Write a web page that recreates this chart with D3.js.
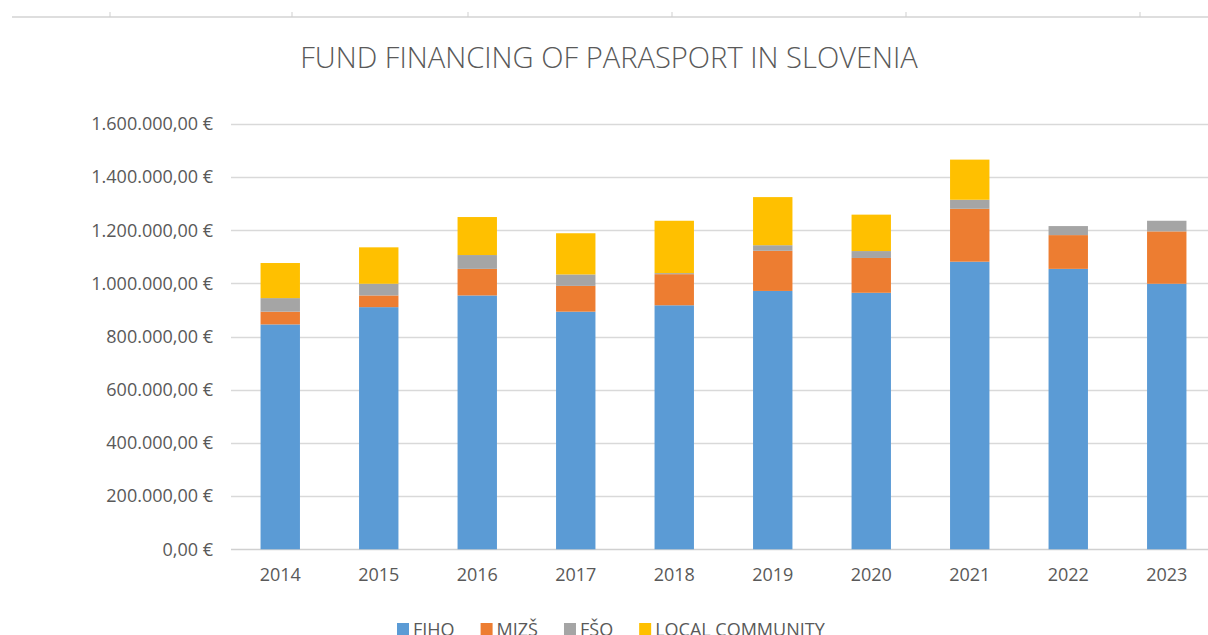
<!DOCTYPE html>
<html>
<head>
<meta charset="utf-8">
<script src="https://cdn.jsdelivr.net/npm/d3@7"></script>
<style>
  html, body { margin: 0; padding: 0; background: #fff; }
  svg { display: block; }
  text { font-family: "Open Sans", "DejaVu Sans", sans-serif; fill: #595959; }
</style>
</head>
<body>
<svg id="chart" width="1208" height="635"></svg>
<script>
const years = ["2014", "2015", "2016", "2017", "2018", "2019", "2020", "2021", "2022", "2023"];
const fiho = [846000, 911000, 955000, 894000, 918000, 972000, 965000, 1082000, 1055000, 999000];
const mizs = [48000, 44000, 100000, 97000, 117000, 151000, 131000, 199000, 127000, 197000];
const fso = [51000, 44000, 52000, 43000, 4000, 21000, 26000, 34000, 34000, 40000];
const local = [132000, 137000, 143000, 155000, 197000, 181000, 137000, 151000, 0, 0];
const seriesNames = ["FIHO", "MIZŠ", "FŠO", "LOCAL COMMUNITY"];
const seriesColors = ["#5B9BD5", "#ED7D31", "#A5A5A5", "#FFC000"];
const yTicks = [0, 200000, 400000, 600000, 800000, 1000000, 1200000, 1400000, 1600000];

const svg = d3.select("#chart");
const W = 1208;

// leftover table border along the top of the screenshot
svg.append("line")
  .attr("x1", 12).attr("x2", W).attr("y1", 17).attr("y2", 17)
  .attr("stroke", "#dedede").attr("stroke-width", 2);
[110, 292, 468, 672, 906, 1140].forEach(x => {
  svg.append("line")
    .attr("x1", x).attr("x2", x).attr("y1", 12).attr("y2", 17)
    .attr("stroke", "#cfcfcf").attr("stroke-width", 1);
});

const table = years.map((y, i) => ({
  year: y, FIHO: fiho[i], "MIZŠ": mizs[i], "FŠO": fso[i], "LOCAL COMMUNITY": local[i]
}));
const stack = d3.stack().keys(seriesNames)(table);

const x = d3.scaleBand().domain(years).range([231, 1216]).paddingInner(0.6).paddingOuter(0.3);
const y = d3.scaleLinear().domain([0, 1600000]).range([549.3, 124]);
const color = d3.scaleOrdinal().domain(seriesNames).range(seriesColors);

const fmt = v => d3.format(",.2f")(v).replace(/,/g, "#").replace(".", ",").replace(/#/g, ".") + " €";

// gridlines
svg.append("g")
  .selectAll("line")
  .data(yTicks)
  .join("line")
  .attr("x1", 231).attr("x2", W)
  .attr("y1", d => Math.round(y(d)) + 0.5).attr("y2", d => Math.round(y(d)) + 0.5)
  .attr("stroke", d => d === 0 ? "#d0d0d0" : "#d9d9d9")
  .attr("stroke-width", 1.3);

// y axis labels
const yAxis = d3.axisLeft(y).tickValues(yTicks).tickFormat(fmt).tickSize(0).tickPadding(18);
const yg = svg.append("g").attr("transform", "translate(231,0)").call(yAxis);
yg.select(".domain").remove();
yg.selectAll("text").attr("font-size", 18).attr("fill", "#595959")
  .style("font-family", "'Open Sans', sans-serif");

// bars
svg.append("g")
  .selectAll("g")
  .data(stack)
  .join("g")
  .attr("fill", d => color(d.key))
  .selectAll("rect")
  .data(d => d)
  .join("rect")
  .attr("x", d => x(d.data.year))
  .attr("width", x.bandwidth())
  .attr("y", d => y(d[1]))
  .attr("height", d => y(d[0]) - y(d[1]));

// x axis labels
const xAxis = d3.axisBottom(x).tickSize(0).tickPadding(19);
const xg = svg.append("g").attr("transform", "translate(0,549.3)").call(xAxis);
xg.select(".domain").remove();
xg.selectAll("text").attr("font-size", 18).attr("fill", "#595959")
  .style("font-family", "'Open Sans', sans-serif");

// title, sized to span the same width as the original
const title = svg.append("text")
  .attr("x", 609).attr("y", 68)
  .attr("text-anchor", "middle")
  .attr("font-size", 29)
  .attr("font-weight", 300)
  .text("FUND FINANCING OF PARASPORT IN SLOVENIA");
const tw = title.node().getComputedTextLength();
title.attr("font-size", 29 * 618 / tw);

// legend
let lx = 397;
const legend = svg.append("g");
seriesNames.forEach((name, i) => {
  legend.append("rect")
    .attr("x", lx).attr("y", 623).attr("width", 12).attr("height", 12)
    .attr("fill", seriesColors[i]);
  const t = legend.append("text")
    .attr("x", lx + 16).attr("y", 636)
    .attr("font-size", 18)
    .text(name);
  lx += 16 + t.node().getComputedTextLength() + 26;
});
</script>
</body>
</html>
